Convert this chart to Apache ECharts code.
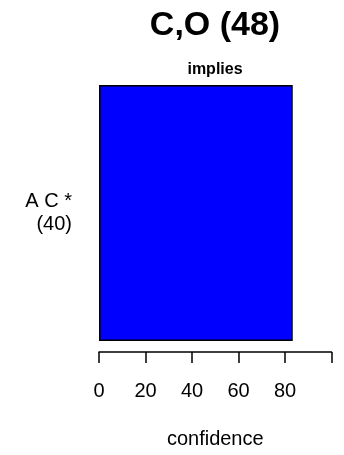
<!DOCTYPE html>
<html>
<head>
<meta charset="utf-8">
<script src="https://cdn.jsdelivr.net/npm/echarts@6/dist/echarts.min.js"></script>
<style>
html,body{margin:0;padding:0;background:#fff;}
#chart{width:344px;height:455px;}
</style>
</head>
<body>
<div id="chart"></div>
<script>
var titleText = 'C,O (48)';
var subtitleText = 'implies';
var categories = ['A C *\n(40)'];
var confidenceValues = [83.33];
var xTickValues = [0, 20, 40, 60, 80];
var xAxisName = 'confidence';

var FONT = '"Liberation Sans", Arial, Helvetica, sans-serif';
var chart = echarts.init(document.getElementById('chart'), null, {renderer: 'canvas'});
chart.setOption({
  animation: false,
  backgroundColor: '#ffffff',
  graphic: [
    {type: 'text', x: 215, y: 26, style: {text: titleText, font: 'bold 34px ' + FONT, fill: '#000', align: 'center', verticalAlign: 'middle'}},
    {type: 'text', x: 215, y: 70, style: {text: subtitleText, font: 'bold 16px ' + FONT, fill: '#000', align: 'center', verticalAlign: 'middle'}}
  ],
  grid: {left: 99, right: 12.5, top: 85, bottom: 114, containLabel: false},
  xAxis: {
    type: 'value', min: 0, max: 100, interval: 20,
    offset: 11,
    axisLine: {show: true, lineStyle: {color: '#000', width: 1.5}},
    axisTick: {show: true, length: 11, lineStyle: {color: '#000', width: 1.5}},
    splitLine: {show: false},
    axisLabel: {
      margin: 29, fontSize: 20, color: '#000', fontFamily: FONT,
      formatter: function (v) { return xTickValues.indexOf(v) >= 0 ? String(v) : ''; }
    },
    name: xAxisName, nameLocation: 'middle', nameGap: 77,
    nameTextStyle: {fontSize: 20, color: '#000', fontFamily: FONT}
  },
  yAxis: {
    type: 'category', data: categories,
    axisLine: {show: false}, axisTick: {show: false}, splitLine: {show: false},
    axisLabel: {margin: 27, fontSize: 20, lineHeight: 23, color: '#000', fontFamily: FONT, align: 'right'}
  },
  series: [{
    type: 'bar', data: confidenceValues,
    barWidth: '100%', barCategoryGap: 0,
    itemStyle: {color: '#0000ff', borderColor: '#000', borderWidth: 1.5}
  }]
});
</script>
</body>
</html>
